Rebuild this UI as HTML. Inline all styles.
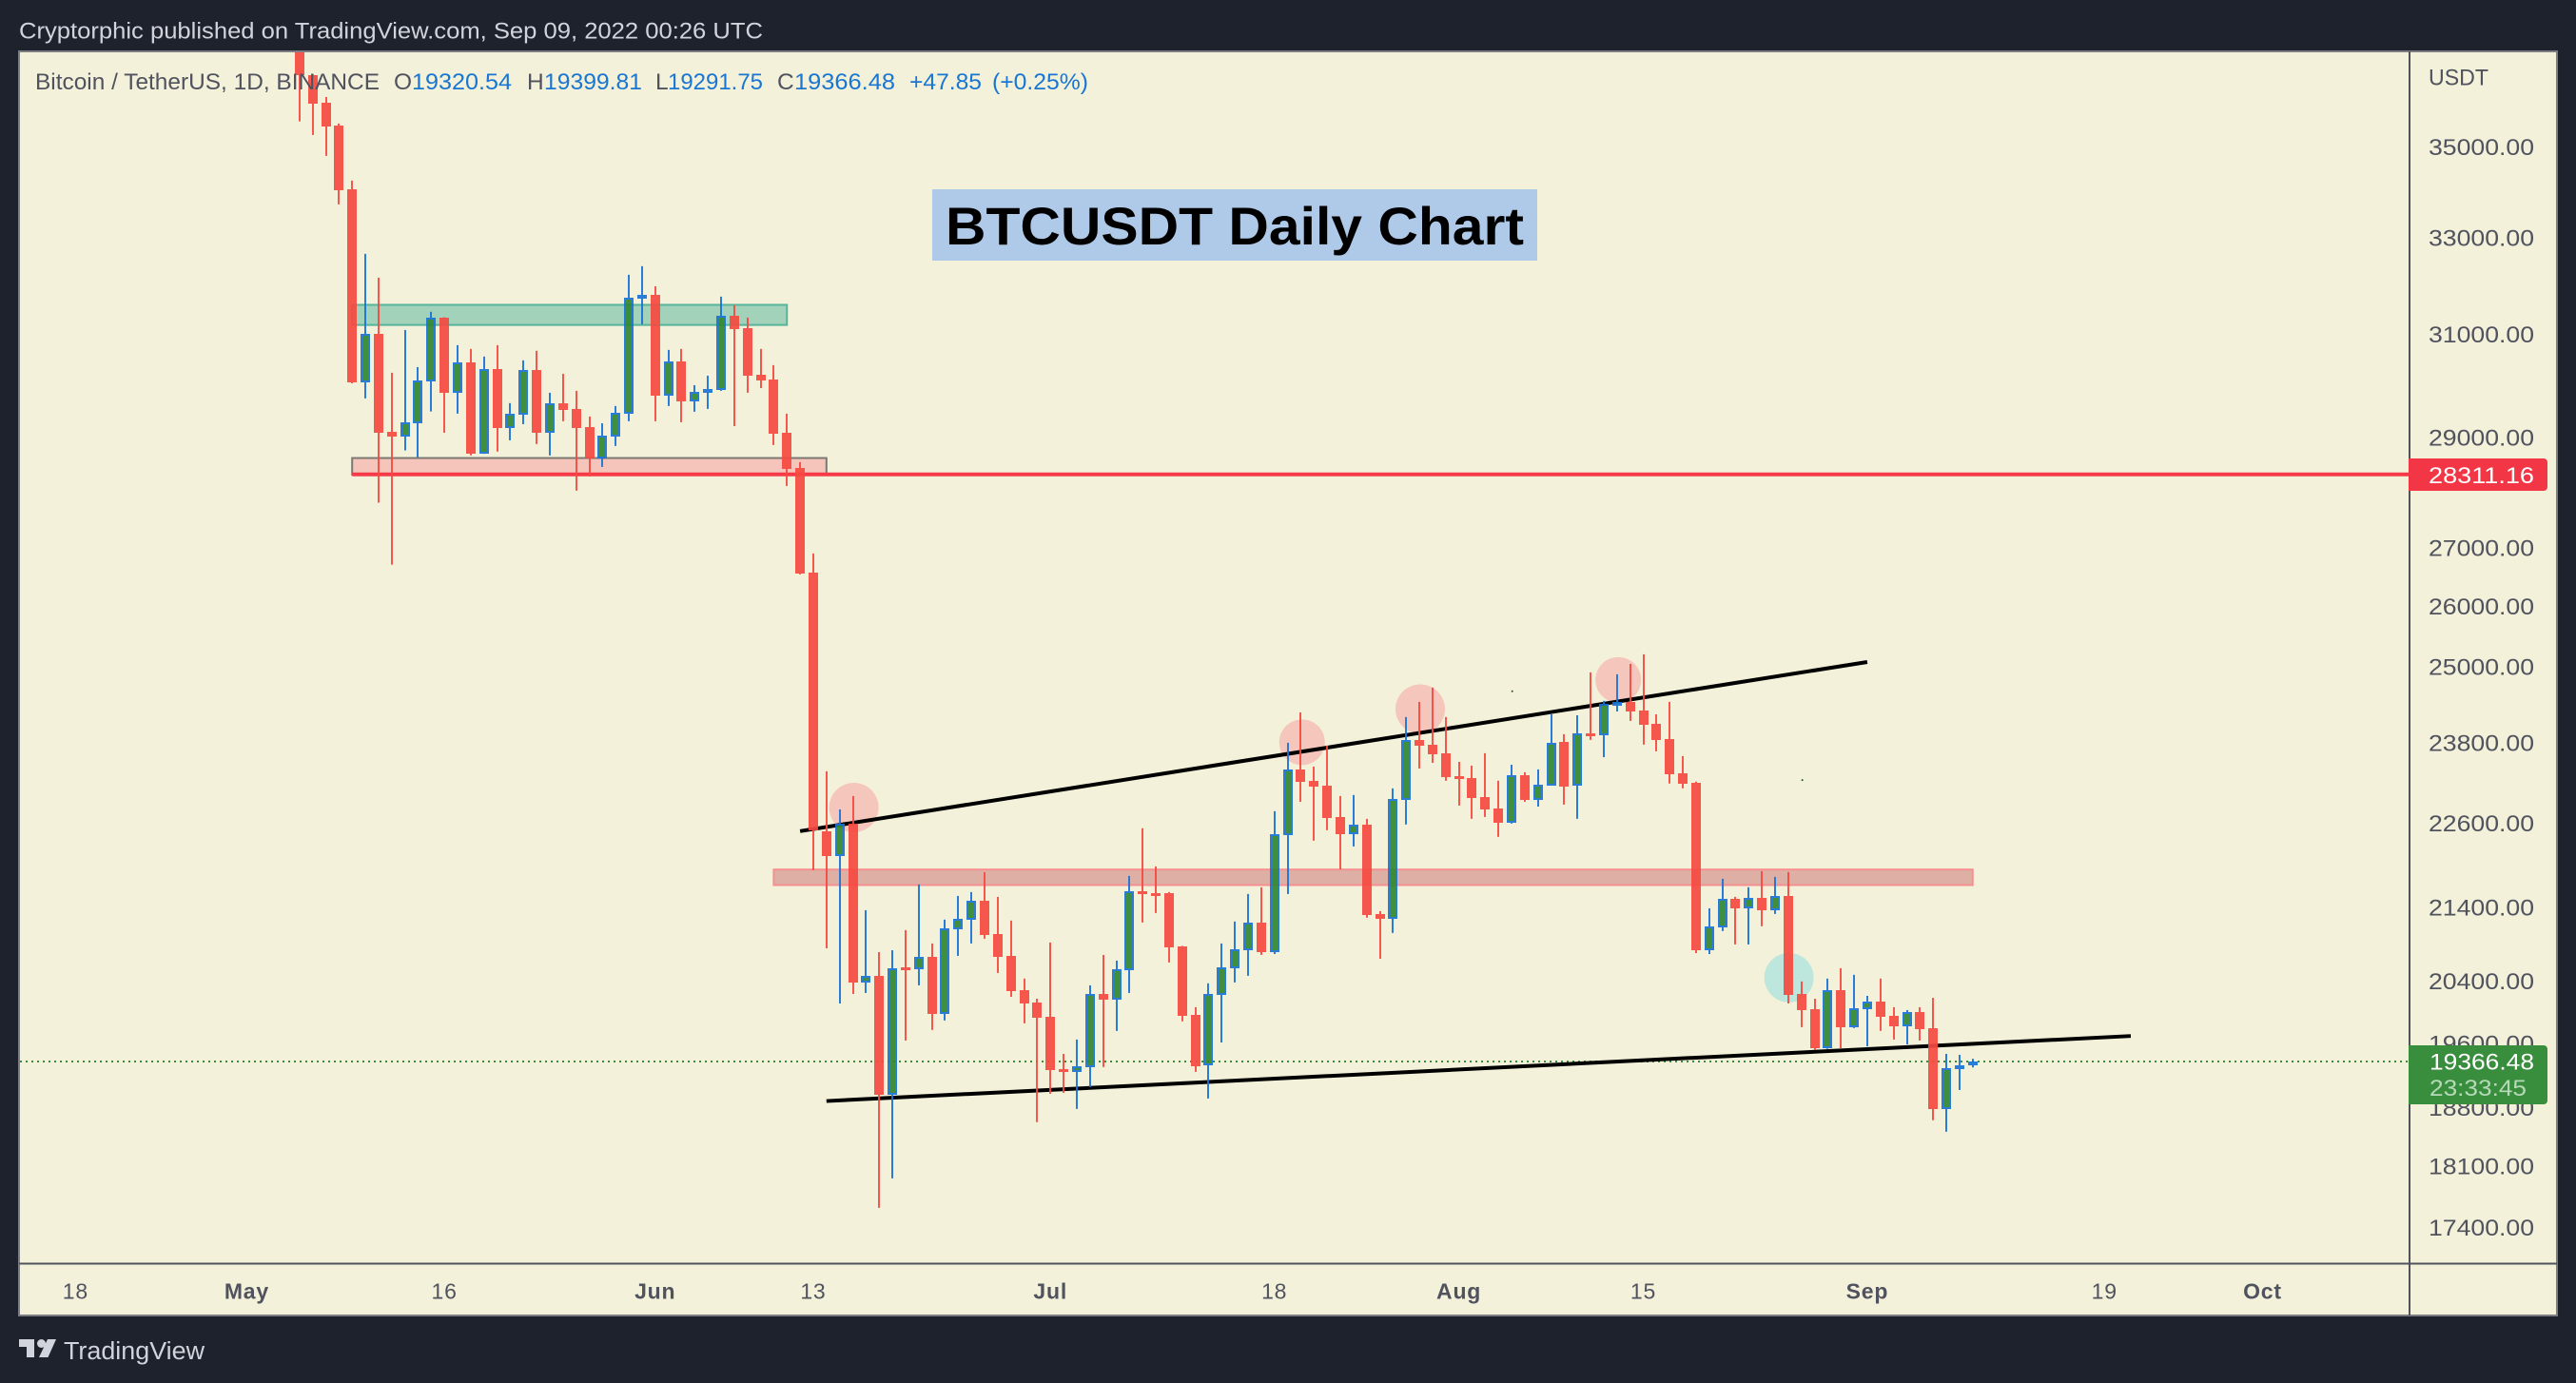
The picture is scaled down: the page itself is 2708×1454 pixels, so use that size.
<!DOCTYPE html>
<html lang="en">
<head>
<meta charset="utf-8">
<title>BTCUSDT Daily Chart</title>
<style>
html,body{margin:0;padding:0;background:#1e222d;width:2708px;height:1454px;overflow:hidden}
svg{display:block}
text{font-family:"Liberation Sans",sans-serif}
</style>
</head>
<body>
<svg id="chart" xmlns="http://www.w3.org/2000/svg" width="2708" height="1454" viewBox="0 0 2708 1454">
  <defs><clipPath id="plot-clip"><rect x="21" y="55" width="2511" height="1273"/></clipPath></defs>
  <rect x="0" y="0" width="2708" height="1454" fill="#1e222d"/>
  <text x="20" y="40.5" font-size="24" fill="#d1d4dc" textLength="782" lengthAdjust="spacingAndGlyphs">Cryptorphic published on TradingView.com, Sep 09, 2022 00:26 UTC</text>
  <rect x="20" y="54" width="2668" height="1329" fill="#f3f1da" stroke="#7c7e84" stroke-width="2"/>
  <g id="drawings" clip-path="url(#plot-clip)"></g>
  <g id="candles" clip-path="url(#plot-clip)"></g>
  <rect x="980" y="199" width="636" height="75" fill="#afc9e8"/>
  <text x="994" y="257" font-size="56" font-weight="700" fill="#000" textLength="608" lengthAdjust="spacingAndGlyphs">BTCUSDT Daily Chart</text>
  <g font-size="24.5">
    <text x="37" y="94" fill="#50535e" textLength="362" lengthAdjust="spacingAndGlyphs">Bitcoin / TetherUS, 1D, BINANCE</text>
    <text x="414" y="94" fill="#50535e">O</text>
    <text x="433" y="94" fill="#1976d2" textLength="105" lengthAdjust="spacingAndGlyphs">19320.54</text>
    <text x="554" y="94" fill="#50535e">H</text>
    <text x="572" y="94" fill="#1976d2" textLength="103" lengthAdjust="spacingAndGlyphs">19399.81</text>
    <text x="689" y="94" fill="#50535e">L</text>
    <text x="702" y="94" fill="#1976d2" textLength="100" lengthAdjust="spacingAndGlyphs">19291.75</text>
    <text x="817" y="94" fill="#50535e">C</text>
    <text x="835" y="94" fill="#1976d2" textLength="106" lengthAdjust="spacingAndGlyphs">19366.48</text>
    <text x="956" y="94" fill="#1976d2" textLength="76" lengthAdjust="spacingAndGlyphs">+47.85</text>
    <text x="1043" y="94" fill="#1976d2" textLength="101" lengthAdjust="spacingAndGlyphs">(+0.25%)</text>
  </g>
  <line x1="2533" y1="54" x2="2533" y2="1383" stroke="#50535e" stroke-width="2"/>
  <line x1="20" y1="1328.5" x2="2688" y2="1328.5" stroke="#50535e" stroke-width="2"/>
  <g id="price-axis"></g>
  <g id="time-axis"></g>
  <text x="2553" y="89.5" font-size="24.5" fill="#50535e" textLength="63" lengthAdjust="spacingAndGlyphs">USDT</text>
  <g>
    <path d="M2532 482H2674a4 4 0 0 1 4 4V512a4 4 0 0 1-4 4H2532Z" fill="#f33645"/>
    <text x="2553" y="508" font-size="24.5" fill="#fff" textLength="111" lengthAdjust="spacingAndGlyphs">28311.16</text>
  </g>
  <g>
    <path d="M2532 1099H2674a4 4 0 0 1 4 4V1157a4 4 0 0 1-4 4H2532Z" fill="#388e3c"/>
    <text x="2554" y="1124.5" font-size="24.5" fill="#fff" textLength="110" lengthAdjust="spacingAndGlyphs">19366.48</text>
    <text x="2554" y="1152" font-size="24.5" fill="#b6d9b8" textLength="102" lengthAdjust="spacingAndGlyphs">23:33:45</text>
  </g>
  <g fill="#d1d4dc">
    <path d="M20 1408H36V1427H28V1416H20Z"/>
    <circle cx="43.5" cy="1412.5" r="4.5"/>
    <polygon points="50,1408 59,1408 50.5,1427 41,1427"/>
    <text x="67" y="1429" font-size="25.5" textLength="148" lengthAdjust="spacingAndGlyphs">TradingView</text>
  </g>
</svg>
<script>
var opens = [39677,36650,36006,35480,34037,30052,31005,29101,29013,29269,
30070,31334,29851,30440,28695,30308,29172,29427,30290,29084,
29646,29536,29190,28607,29013,29445,31721,31798,29791,30460,
29682,29846,29901,31373,31121,30196,30101,29084,28430,26569,
22477,22122,22588,20382,20470,18953,20580,20562,20722,19972,
21097,21227,21488,21032,20735,20281,20119,19935,19270,19237,
19297,20231,20159,20546,21622,21595,21595,20863,19960,19324,
20222,20571,20811,21188,20785,22425,23394,23222,23151,22685,
22436,22574,21305,21244,22942,23844,23771,23639,23293,23265,
22980,22809,22602,23308,22937,23155,23815,23142,23948,23922,
24377,24438,24300,24094,23859,23336,23194,20811,21123,21515,
21383,21528,21357,21555,20231,20033,19533,20281,19801,20033,
20131,19948,19813,19997,19789,18781,19273,19320.54];
var highs = [39845,36678,36137,35523,34235,32651,32152,30234,31082,30346,
31450,31340,30779,30704,30553,30779,29646,30478,30666,29846,
30215,29883,29391,29263,29591,32212,32392,31973,30685,30704,
29992,30177,31760,31585,31334,30704,30384,29445,28536,26900,
23364,22795,22994,21357,20785,20811,21084,21716,20902,21227,
21555,21609,21890,21542,21214,20433,20168,20915,19462,19643,
20344,20748,20672,21836,22519,21970,21609,20870,20058,20370,
20902,21201,21582,21676,22768,23800,24271,23436,23756,22994,
23009,22657,21344,23108,24199,24438,24665,24199,23507,23450,
23639,23222,23464,23350,23393,24241,23933,24226,24908,24453,
24877,25045,25201,24241,24438,23595,23208,21383,21796,21542,
21676,21904,21823,21890,20395,20168,20433,20571,20483,20206,
20433,20058,20021,20058,20181,19462,19450,19399.81];
var lows = [35571,35260,34787,33713,30028,29737,27797,26706,28753,28625,
29487,29084,29445,28660,28690,28731,28942,29245,28872,28660,
29300,28015,28272,28448,28836,29300,31198,29300,29591,29282,
29482,29536,29883,29208,29846,29937,28854,28100,26537,21917,
20837,20107,20231,20244,17617,17956,19630,20344,19765,19887,
20735,20902,20967,20508,20193,19850,18621,18965,18977,18781,
19048,19297,19753,20244,21188,21318,20647,19875,19237,18908,
19606,20382,20470,20748,20760,21582,22908,22339,22491,21930,
22256,21253,20697,21045,22574,23407,23493,23222,22852,22657,
22685,22394,22588,22908,22837,23151,22866,22657,23844,23578,
24286,24138,23771,23668,23180,23108,20773,20760,21071,20889,
20889,21136,21305,20107,19801,19510,19525,19533,19789,19557,
19753,19643,19581,19630,18644,18506,19012,19291.75];
var closes = [36650,35984,35458,34033,30052,31000,29084,29013,29276,30078,
31328,29846,30435,28695,30303,29172,29440,30284,29084,29640,
29518,29172,28607,29025,29458,31735,31798,29791,30454,29682,
29859,29919,31367,31101,30177,30083,29066,28413,26553,22491,
22122,22588,20382,20467,18953,20567,20550,20719,19972,21106,
21236,21484,21019,20722,20269,20107,19923,19261,19237,19305,
20227,20156,20555,21618,21582,21569,20850,19948,19308,20227,
20580,20820,21184,20785,22432,23389,23208,23137,22671,22436,
22570,21292,21240,22947,23840,23756,23624,23279,23250,22965,
22795,22602,23303,22937,23160,23796,23137,23943,23918,24408,
24438,24286,24080,23844,23322,23180,20811,21132,21511,21383,
21524,21357,21551,20218,20021,19533,20278,19801,20042,20128,
19935,19813,19993,19777,18781,19278,19320,19366.48];
var priceTicks = [35000,33000,31000,29000,27000,26000,25000,23800,22600,21400,20400,19600,18800,18100,17400];
var timeTickLabels = ['18','May','16','Jun','13','Jul','18','Aug','15','Sep','19','Oct'];
var timeTickDays = [-17,-4,11,27,39,57,74,88,102,119,137,149];
var timeTickMajor = [0,1,0,1,0,1,0,1,0,1,0,1];
var lastPrice = 19366.48;
var levelPrice = 28311.16;
var levelStartDay = 4;
var boxStartDays = [4,4,36];
var boxEndDays = [37,40,127];
var boxTopPrices = [31592,28612,21926];
var boxBottomPrices = [31184,28307,21707];
var upperLineDays = [38,119];
var upperLinePrices = [22477,25076];
var lowerLineDays = [40,139];
var lowerLinePrices = [18877,19688];
var swingDays = [42.08,76.1,85.07,100.1];
var swingPrices = [22823,23808,24324,24787];
var retestDays = [113.06];
var retestPrices = [20445];
var specDays = [92.05,114.07];
var specPrices = [24605,23232];

var NS = 'http://www.w3.org/2000/svg';
function xOf(day){ return 314.8 + 13.85 * day; }
function yOf(price){ return 1290 - 1625.5 * Math.log(price / 17400); }
function make(tag, parent, attrs){
  var el = document.createElementNS(NS, tag);
  for (var k in attrs) el.setAttribute(k, attrs[k]);
  parent.appendChild(el);
  return el;
}
var drawings = document.getElementById('drawings');
var candlesLayer = document.getElementById('candles');
var priceAxis = document.getElementById('price-axis');
var timeAxis = document.getElementById('time-axis');

var boxFills = ['#a3d2bb','#f5c5bb','#deb0a5'];
var boxStrokes = ['#55b49a','#7c7872','#f68f8f'];
var boxNames = ['resistance-zone','support-zone','breakdown-zone'];
boxStartDays.forEach(function(d, i){
  var x0 = xOf(d), x1 = xOf(boxEndDays[i]), y0 = yOf(boxTopPrices[i]), y1 = yOf(boxBottomPrices[i]);
  var box = make('rect', drawings, {x:x0, y:y0, width:x1-x0, height:y1-y0, fill:boxFills[i], stroke:boxStrokes[i], 'stroke-width':2});
  
  
});

swingDays.forEach(function(d, i){
  var r = i % 3 === 0 && i > 0 ? 24 : (i === 1 ? 24 : 26);
  var c = make('circle', drawings, {cx:xOf(d), cy:yOf(swingPrices[i]), r:r, fill:'#f5c6bb'});
  
  
});
retestDays.forEach(function(d, i){
  var c = make('circle', drawings, {cx:xOf(d), cy:yOf(retestPrices[i]), r:26, fill:'#bde6dc'});
  
  
});
specDays.forEach(function(d, i){
  var c = make('circle', drawings, {cx:xOf(d), cy:yOf(specPrices[i]), r:1, fill:'#2a4a40'});
  
  
});

var levelLine = make('line', drawings, {x1:xOf(levelStartDay), y1:yOf(levelPrice), x2:2532, y2:yOf(levelPrice), stroke:'#f63a47', 'stroke-width':4});



var lastLine = make('line', drawings, {x1:21, y1:yOf(lastPrice), x2:2532, y2:yOf(lastPrice), stroke:'#388e3c', 'stroke-width':2, 'stroke-dasharray':'2 4'});



var upperLine = make('line', drawings, {x1:xOf(upperLineDays[0]), y1:yOf(upperLinePrices[0]), x2:xOf(upperLineDays[1]), y2:yOf(upperLinePrices[1]), stroke:'#000', 'stroke-width':4});



var lowerLine = make('line', drawings, {x1:xOf(lowerLineDays[0]), y1:yOf(lowerLinePrices[0]), x2:xOf(lowerLineDays[1]), y2:yOf(lowerLinePrices[1]), stroke:'#000', 'stroke-width':4});



opens.forEach(function(open, i){
  var close = closes[i];
  var up = close >= open;
  var cx = Math.round(xOf(i));
  var top = Math.round(yOf(Math.max(open, close)));
  var bottom = Math.round(yOf(Math.min(open, close)));
  if (bottom - top < 3) bottom = top + 3;
  var g = make('g', candlesLayer, {opacity:0.92});
  
  
  var wick = make('line', g, {x1:cx, x2:cx, y1:yOf(highs[i]), y2:yOf(lows[i]), stroke: up ? '#1873d8' : '#f64a41', 'stroke-width':2});
  
  
  var body = make('rect', g, {x:cx-4, y:top+1, width:8, height:Math.max(1, bottom-top-2), fill: up ? '#308731' : '#f64a41', stroke: up ? '#1873d8' : '#f64a41', 'stroke-width':2});
  
  
});

priceTicks.forEach(function(p){
  var t = make('text', priceAxis, {x:2553, y:yOf(p)+8.8, 'font-size':24.5, fill:'#50535e', textLength:111, lengthAdjust:'spacingAndGlyphs'});
  t.textContent = p.toFixed(2);
  
  
});

timeTickLabels.forEach(function(label, i){
  var t = make('text', timeAxis, {x:xOf(timeTickDays[i]), y:1365.5, 'font-size':23, 'letter-spacing':0.8, 'text-anchor':'middle', fill:'#50535e', 'font-weight': timeTickMajor[i] ? 700 : 400});
  t.textContent = label;
  
  
});
</script>
</body>
</html>
